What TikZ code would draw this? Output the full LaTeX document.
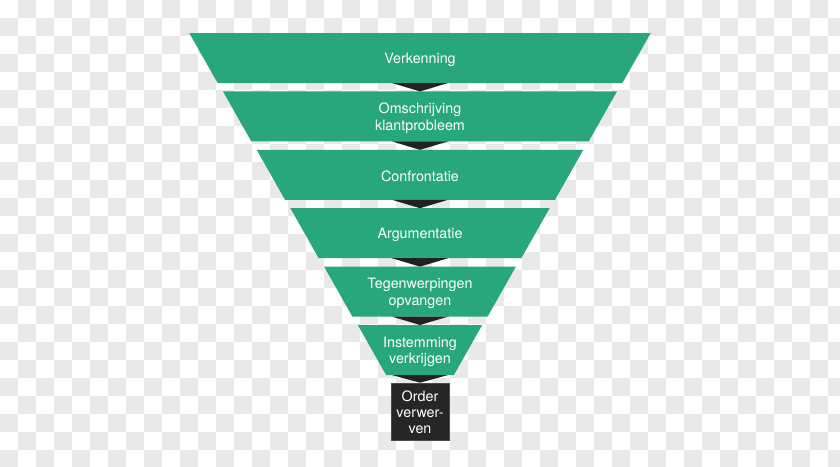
\documentclass[tikz,border=0pt]{standalone}
\usepackage{fontspec}
\setmainfont{TeX Gyre Heros}
\usetikzlibrary{calc}
\definecolor{fgreen}{HTML}{27A77B}
\definecolor{checker}{HTML}{E9E9E9}
\definecolor{darkbox}{HTML}{262626}
\definecolor{arrowc}{HTML}{222222}
\newcommand\funnelband[3]{%
  \pgfmathsetmacro\yt{33+58.4*#1}%
  \pgfmathsetmacro\yb{\yt+50}%
  \pgfmathsetmacro\hwt{230.7-33.7*#1}%
  \pgfmathsetmacro\hwb{\hwt-28.3}%
  \fill[fgreen] (420-\hwt,\yt) -- (420+\hwt,\yt) -- (420+\hwb,\yb) -- (420-\hwb,\yb) -- cycle;
  \coordinate (#2-t) at (420,\yt);
  \coordinate (#2-b) at (420,\yb);
  \node[lbl] (#2) at (420,\yt+26.8) {#3};
}
\begin{document}
\begin{tikzpicture}[x=1pt,y=-1pt,
  lbl/.style={text=white,font=\fontsize{14.3}{16.8}\selectfont,align=center,inner sep=0pt},
  orderbox/.style={fill=darkbox,draw=black!70,line width=0.6pt,minimum width=58pt,minimum height=57pt,inner sep=0pt,text=white,font=\fontsize{14.3}{16}\selectfont,align=center},
  funnelarrow/.style={fill=arrowc}]
\useasboundingbox (0,0) rectangle (840,466);
\fill[white] (0,0) rectangle (840,466);
\begin{scope}
\clip (0,0) rectangle (840,466);
\foreach \r in {0,...,25}{
  \foreach \c in {0,...,46}{
    \pgfmathtruncatemacro\chk{mod(\r+\c,2)}
    \ifnum\chk=1
      \fill[checker] (\c*18,\r*18) rectangle (\c*18+18,\r*18+18);
    \fi
  }
}
\end{scope}
\funnelband{0}{b1}{Verkenning}
\funnelband{1}{b2}{Omschrijving\\klantprobleem}
\funnelband{2}{b3}{Confrontatie}
\funnelband{3}{b4}{Argumentatie}
\funnelband{4}{b5}{Tegenwerpingen\\opvangen}
\funnelband{5}{b6}{Instemming\\verkrijgen}
\node[orderbox] (order) at (420,411.5) {};
\node[lbl,font=\fontsize{14.3}{16}\selectfont] (ordertext) at (420,412.5) {Order\\verwer-\\ven};
\foreach \a/\b in {b1/b2,b2/b3,b3/b4,b4/b5,b5/b6}{
  \fill[funnelarrow] ($(\a-b)+(-28,0)$) -- ($(\a-b)+(28,0)$) -- (\b-t) -- cycle;
}
\fill[funnelarrow] ($(b6-b)+(-28,0)$) -- ($(b6-b)+(28,0)$) -- (order.north) -- cycle;
\end{tikzpicture}
\end{document}
